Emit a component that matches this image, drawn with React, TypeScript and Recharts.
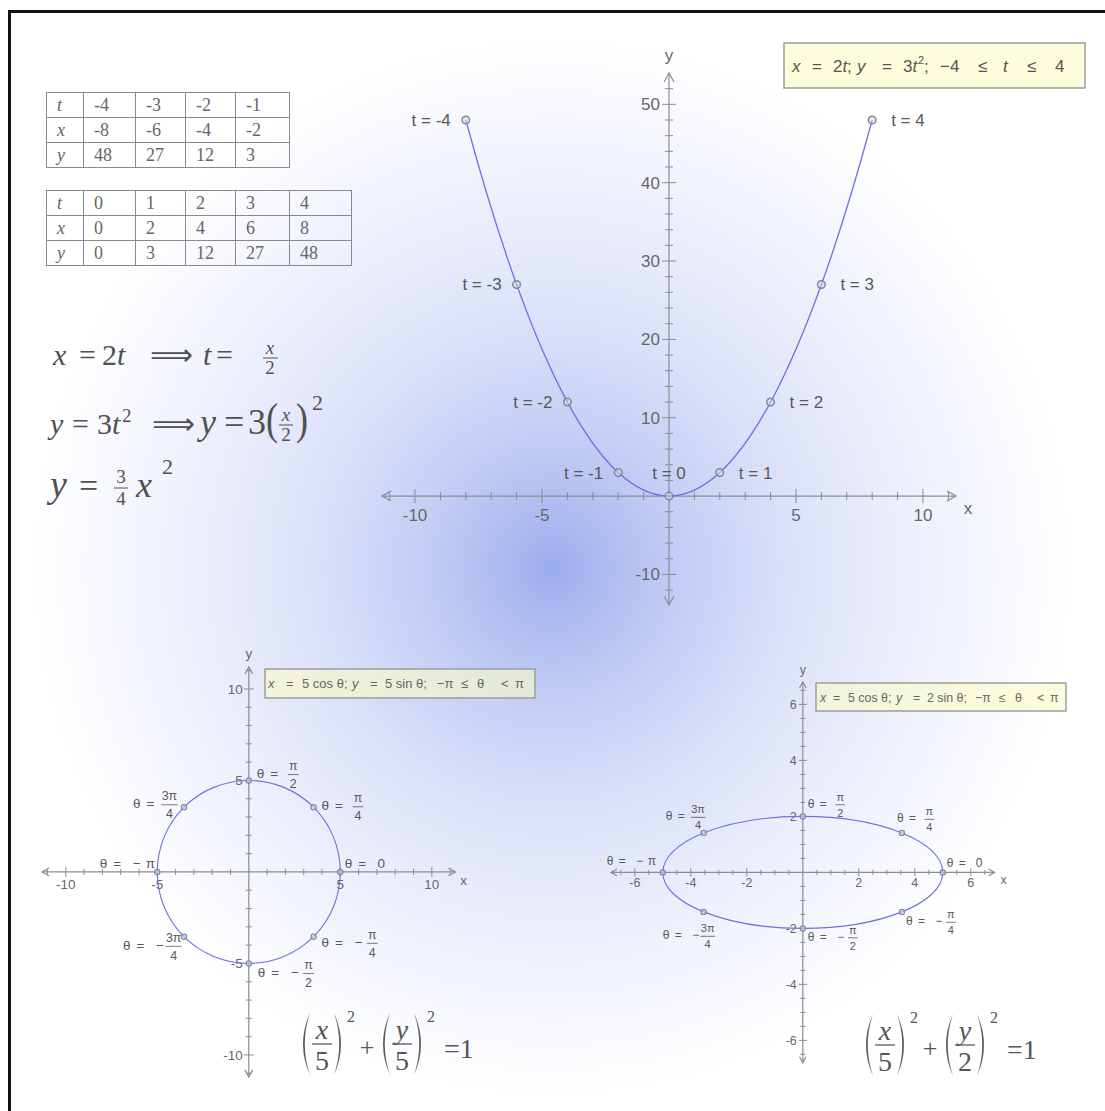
import React from 'react';
import { ScatterChart, Scatter, XAxis, YAxis } from 'recharts';

const SANS = "'Liberation Sans', Arial, sans-serif";
const SERIF = "'Liberation Serif', 'Times New Roman', serif";
const AXIS = '#8b8c94';
const TICK = '#676767';
const INK = '#585858';
const CURVE = '#7070e2';
const MARK = '#85879a';

// parametric parabola x = 2t, y = 3t²
const tValues = [-4, -3, -2, -1, 0, 1, 2, 3, 4];
const parabolaX = [-8, -6, -4, -2, 0, 2, 4, 6, 8];
const parabolaY = [48, 27, 12, 3, 0, 3, 12, 27, 48];

// angles marked on the circle and on the ellipse
const thetaNames = ['0', 'π/4', 'π/2', '3π/4', '−π', '−3π/4', '−π/2', '−π/4'];
const circleX = [5, 3.54, 0, -3.54, -5, -3.54, 0, 3.54];
const circleY = [0, 3.54, 5, 3.54, 0, -3.54, -5, -3.54];
const ellipseX = [5, 3.54, 0, -3.54, -5, -3.54, 0, 3.54];
const ellipseY = [0, 1.41, 2, 1.41, 0, -1.41, -2, -1.41];

// labelled axis ticks
const parabolaXTicks = [-10, -5, 5, 10];
const parabolaYTicks = [-10, 10, 20, 30, 40, 50];
const circleTicks = [-10, -5, 5, 10];
const ellipseTicks = [-6, -4, -2, 2, 4, 6];

// label offsets (px) from each marked point: start of the label, vertical centre
type Place = { dx: number; dy: number };
const circleLabelPlace: Place[] = [
  { dx: 4.5, dy: -9 }, { dx: 8, dy: -2 }, { dx: 8, dy: -7.5 }, { dx: -51, dy: -4 },
  { dx: -57.5, dy: -9 }, { dx: -61, dy: 8 }, { dx: 9, dy: 8.5 }, { dx: 8, dy: 5 },
];
const ellipseLabelPlace: Place[] = [
  { dx: 4, dy: -10 }, { dx: -5, dy: -15 }, { dx: 5, dy: -13 }, { dx: -38, dy: -17 },
  { dx: -56, dy: -12 }, { dx: -41, dy: 23 }, { dx: 5, dy: 8 }, { dx: 4, dy: 9 },
];

const range = (a: number, b: number, step: number) => {
  const out: number[] = [];
  for (let v = a; v <= b + 1e-9; v += step) out.push(Math.round(v * 100) / 100);
  return out;
};

// Cardinal spline through the points (closed loop or open with quadratic end extrapolation)
function cardinal(closed: boolean, k: number) {
  return (context: any) => {
    let pts: number[][] = [];
    return {
      areaStart() {},
      areaEnd() {},
      lineStart() { pts = []; },
      point(x: number, y: number) { pts.push([+x, +y]); },
      lineEnd() {
        const n = pts.length;
        if (!n) return;
        const get = (i: number): number[] => {
          if (closed) return pts[((i % n) + n) % n];
          if (i < 0) return [0, 1].map((j) => 3 * pts[0][j] - 3 * pts[1][j] + pts[2][j]);
          if (i >= n) return [0, 1].map((j) => 3 * pts[n - 1][j] - 3 * pts[n - 2][j] + pts[n - 3][j]);
          return pts[i];
        };
        context.moveTo(pts[0][0], pts[0][1]);
        const segs = closed ? n : n - 1;
        for (let i = 0; i < segs; i++) {
          const p0 = get(i - 1), p1 = get(i), p2 = get(i + 1), p3 = get(i + 2);
          context.bezierCurveTo(
            p1[0] + (p2[0] - p0[0]) * k, p1[1] + (p2[1] - p0[1]) * k,
            p2[0] - (p3[0] - p1[0]) * k, p2[1] - (p3[1] - p1[1]) * k,
            p2[0], p2[1],
          );
        }
        if (closed) context.closePath();
      },
    };
  };
}

type PlaneCfg = {
  left: number; top: number; w: number; h: number; pad: number;
  xDomain: [number, number]; yDomain: [number, number];
  xMinor: number[]; yMinor: number[]; xMajor: number[]; yMajor: number[];
  minorLen: number; majorLen: number; arrow: number; font: number;
  xLabelDy: number; yLabelDx: number; nameFont: number;
  xName: [number, number]; yName: [number, number];
};

const arrowShape = (c: PlaneCfg) => (p: any) => {
  const { cx, cy, payload } = p;
  const s = c.arrow;
  const w = s * 0.55;
  let pts = '';
  if (payload.dir === 'right') pts = `${cx - s},${cy - w} ${cx},${cy} ${cx - s},${cy + w}`;
  if (payload.dir === 'left') pts = `${cx + s},${cy - w} ${cx},${cy} ${cx + s},${cy + w}`;
  if (payload.dir === 'up') pts = `${cx - w},${cy + s} ${cx},${cy} ${cx + w},${cy + s}`;
  if (payload.dir === 'down') pts = `${cx - w},${cy - s} ${cx},${cy} ${cx + w},${cy - s}`;
  const off = payload.dir === 'right' ? c.xName : c.yName;
  return (
    <g>
      <polyline points={pts} fill="none" stroke={AXIS} strokeWidth={1.2} />
      {payload.name && (
        <text x={cx + off[0]} y={cy + off[1]} textAnchor="middle" fontSize={c.nameFont} fontFamily={SANS} fill={TICK}>
          {payload.name}
        </text>
      )}
    </g>
  );
};

const xTickShape = (c: PlaneCfg, len: number) => (p: any) => {
  const { cx, cy, payload } = p;
  return (
    <g>
      <line x1={cx} x2={cx} y1={cy - len} y2={cy + len} stroke={AXIS} strokeWidth={1} />
      {payload.label && (
        <text x={cx} y={cy + c.xLabelDy} textAnchor="middle" fontSize={c.font} fontFamily={SANS} fill={TICK}>
          {payload.label}
        </text>
      )}
    </g>
  );
};

const yTickShape = (c: PlaneCfg, len: number) => (p: any) => {
  const { cx, cy, payload } = p;
  return (
    <g>
      <line x1={cx - len} x2={cx + len} y1={cy} y2={cy} stroke={AXIS} strokeWidth={1} />
      {payload.label && (
        <text x={cx - c.yLabelDx} y={cy} dy="0.35em" textAnchor="end" fontSize={c.font} fontFamily={SANS} fill={TICK}>
          {payload.label}
        </text>
      )}
    </g>
  );
};

function axisSeries(c: PlaneCfg) {
  const xLine = [{ x: c.xDomain[0], y: 0, dir: 'left' }, { x: c.xDomain[1], y: 0, dir: 'right', name: 'x' }];
  const yLine = [{ x: 0, y: c.yDomain[0], dir: 'down' }, { x: 0, y: c.yDomain[1], dir: 'up', name: 'y' }];
  const xMinor = c.xMinor.filter((v) => v !== 0 && !c.xMajor.includes(v)).map((v) => ({ x: v, y: 0 }));
  const yMinor = c.yMinor.filter((v) => v !== 0 && !c.yMajor.includes(v)).map((v) => ({ x: 0, y: v }));
  const xMajor = c.xMajor.map((v) => ({ x: v, y: 0, label: String(v) }));
  const yMajor = c.yMajor.map((v) => ({ x: 0, y: v, label: String(v) }));
  const lineStyle = { stroke: AXIS, strokeWidth: 1.2 };
  return [
    <Scatter key="ax-x" data={xLine} line={lineStyle} shape={arrowShape(c)} isAnimationActive={false} />,
    <Scatter key="ax-y" data={yLine} line={lineStyle} shape={arrowShape(c)} isAnimationActive={false} />,
    <Scatter key="tk-xm" data={xMinor} shape={xTickShape(c, c.minorLen)} isAnimationActive={false} />,
    <Scatter key="tk-xM" data={xMajor} shape={xTickShape(c, c.majorLen)} isAnimationActive={false} />,
    <Scatter key="tk-ym" data={yMinor} shape={yTickShape(c, c.minorLen)} isAnimationActive={false} />,
    <Scatter key="tk-yM" data={yMajor} shape={yTickShape(c, c.majorLen)} isAnimationActive={false} />,
  ];
}

function Plane({ cfg, children }: { cfg: PlaneCfg; children: React.ReactNode }) {
  const c = cfg;
  return (
    <div style={{ position: 'absolute', left: c.left - c.pad, top: c.top - c.pad }}>
      <ScatterChart
        width={c.w + 2 * c.pad}
        height={c.h + 2 * c.pad}
        margin={{ top: c.pad, right: c.pad, bottom: c.pad, left: c.pad }}
      >
        <XAxis type="number" dataKey="x" domain={c.xDomain} hide />
        <YAxis type="number" dataKey="y" domain={c.yDomain} hide />
        {axisSeries(c)}
        {children}
      </ScatterChart>
    </div>
  );
}

// "θ = value" label, the value drawn as a stacked fraction when it has one
function ThetaText({ x, y, name, s }: { x: number; y: number; name: string; s: number }) {
  const neg = name.startsWith('−');
  const body = neg ? name.slice(1) : name;
  const [num, den] = body.split('/');
  const base = y + 0.36 * s;
  const vx = x + (neg ? 3.75 : 2.7) * s;
  const f = 0.92 * s;
  const hw = (num.length > 1 ? 0.6 : 0.4) * s;
  return (
    <g fontFamily={SANS} fill={INK}>
      <text x={x} y={base} fontSize={s}>θ</text>
      <text x={x + 1.0 * s} y={base} fontSize={s}>=</text>
      {neg && <text x={x + 2.75 * s} y={base} fontSize={s} textAnchor="middle">−</text>}
      {den ? (
        <g>
          <text x={vx} y={y - 0.22 * s} fontSize={f} textAnchor="middle">{num}</text>
          <line x1={vx - hw} x2={vx + hw} y1={y + 0.12 * s} y2={y + 0.12 * s} stroke={INK} strokeWidth={0.8} />
          <text x={vx} y={y + 1.1 * s} fontSize={f} textAnchor="middle">{den}</text>
        </g>
      ) : (
        <text x={vx} y={base} fontSize={s} textAnchor="middle">{num}</text>
      )}
    </g>
  );
}

// ---------- top plane: the parabola ----------
const parabolaCfg: PlaneCfg = {
  left: 381.5, top: 73, w: 574, h: 532, pad: 40,
  xDomain: [-11.3, 11.3], yDomain: [-13.9, 54],
  xMinor: range(-11, 11, 1), yMinor: range(-12, 52, 2),
  xMajor: parabolaXTicks, yMajor: parabolaYTicks,
  minorLen: 4, majorLen: 7, arrow: 9, font: 17,
  xLabelDy: 25, yLabelDx: 9, nameFont: 17,
  xName: [12, 18], yName: [0, -12],
};

const parabolaPoints = tValues.map((t, i) => ({ x: parabolaX[i], y: parabolaY[i], t }));

const parabolaMark = (p: any) => {
  const { cx, cy, payload } = p;
  const t = payload.t;
  const label = `t = ${t}`;
  let tx = cx, ty = cy, anchor: any = 'middle';
  if (t < 0) { tx = cx - 15; anchor = 'end'; }
  if (t > 0) { tx = cx + 19; anchor = 'start'; }
  if (t === 0) { ty = cy - 23; }
  return (
    <g>
      <circle cx={cx} cy={cy} r={3.8} fill="rgba(210,216,240,0.55)" stroke={MARK} strokeWidth={1.5} />
      <text x={tx} y={ty} dy="0.35em" textAnchor={anchor} fontSize={17} fontFamily={SANS} fill={INK}>{label}</text>
    </g>
  );
};

// ---------- bottom left: the circle ----------
const circleCfg: PlaneCfg = {
  left: 42.2, top: 667, w: 413.6, h: 409.9, pad: 30,
  xDomain: [-11.3, 11.3], yDomain: [-11.2, 11.2],
  xMinor: range(-11, 11, 1), yMinor: range(-11, 11, 1),
  xMajor: circleTicks, yMajor: circleTicks,
  minorLen: 3, majorLen: 5, arrow: 7, font: 13.5,
  xLabelDy: 17, yLabelDx: 6, nameFont: 13.5,
  xName: [8, 13], yName: [0, -9],
};

const circlePoints = thetaNames.map((name, i) => ({ x: circleX[i], y: circleY[i], name, place: circleLabelPlace[i] }));

// ---------- bottom right: the ellipse ----------
const ellipseCfg: PlaneCfg = {
  left: 611.2, top: 681.6, w: 383.6, h: 380.8, pad: 30,
  xDomain: [-6.85, 6.85], yDomain: [-6.8, 6.8],
  xMinor: range(-6.5, 6.5, 0.5), yMinor: range(-6.5, 6.5, 0.5),
  xMajor: ellipseTicks, yMajor: ellipseTicks,
  minorLen: 2.5, majorLen: 4, arrow: 6, font: 12.5,
  xLabelDy: 15, yLabelDx: 6, nameFont: 12.5,
  xName: [9, 12], yName: [0, -8],
};

const ellipsePoints = thetaNames.map((name, i) => ({ x: ellipseX[i], y: ellipseY[i], name, place: ellipseLabelPlace[i] }));

const thetaMark = (s: number) => (p: any) => {
  const { cx, cy, payload } = p;
  const pl = payload.place;
  return (
    <g>
      <circle cx={cx} cy={cy} r={2.6} fill="rgba(210,216,240,0.55)" stroke={MARK} strokeWidth={1.2} />
      <ThetaText x={cx + pl.dx} y={cy + pl.dy} name={payload.name} s={s} />
    </g>
  );
};

// ---------- tables of values ----------
function ValueTable({ left, top, idx, widths }: { left: number; top: number; idx: number[]; widths: number[] }) {
  const rows: [string, number[]][] = [['t', tValues], ['x', parabolaX], ['y', parabolaY]];
  const cell: React.CSSProperties = {
    border: '1px solid #8a8a8a', padding: '0 0 0 10px', height: 24, lineHeight: '24px',
    textAlign: 'left', verticalAlign: 'middle', whiteSpace: 'nowrap', boxSizing: 'border-box',
  };
  return (
    <table
      style={{
        position: 'absolute', left, top, borderCollapse: 'collapse', tableLayout: 'fixed',
        width: widths.reduce((a, b) => a + b, 0), fontFamily: SERIF, fontSize: 18, color: '#666',
      }}
    >
      <colgroup>{widths.map((w, i) => <col key={i} style={{ width: w }} />)}</colgroup>
      <tbody>
        {rows.map(([name, vals]) => (
          <tr key={name}>
            <td style={{ ...cell, fontStyle: 'italic' }}>{name}</td>
            {idx.map((i) => <td key={i} style={cell}>{vals[i]}</td>)}
          </tr>
        ))}
      </tbody>
    </table>
  );
}

// ---------- large parentheses for the implicit equations ----------
function Paren({ x, top, h, right }: { x: number; top: number; h: number; right?: boolean }) {
  const w = 10;
  const mid = top + h / 2;
  const bot = top + h;
  const d = right
    ? `M${x},${top} Q${x + 1.4 * w},${mid} ${x},${bot} Q${x + 1.05 * w},${mid} ${x},${top} Z`
    : `M${x + w},${top} Q${x - 0.4 * w},${mid} ${x + w},${bot} Q${x - 0.05 * w},${mid} ${x + w},${top} Z`;
  return <path d={d} fill="#5a5a5a" />;
}

function Implicit({ ox, oy, b }: { ox: number; oy: number; b: string }) {
  const group = (gx: number, v: string, d: string) => (
    <g>
      <Paren x={gx} top={oy} h={62} />
      <text x={gx + 22} y={oy + 26} fontSize={28} fontStyle="italic" textAnchor="middle">{v}</text>
      <line x1={gx + 12} x2={gx + 32} y1={oy + 31} y2={oy + 31} stroke="#5a5a5a" strokeWidth={1.3} />
      <text x={gx + 22} y={oy + 57} fontSize={28} textAnchor="middle">{d}</text>
      <Paren x={gx + 34} top={oy} h={62} right />
      <text x={gx + 47} y={oy + 9} fontSize={16}>2</text>
    </g>
  );
  return (
    <g fontFamily={SERIF} fill="#555">
      {group(ox, 'x', '5')}
      <text x={ox + 67} y={oy + 43} fontSize={26} textAnchor="middle">+</text>
      {group(ox + 80, 'y', b)}
      <text x={ox + 144} y={oy + 45} fontSize={28}>=1</text>
    </g>
  );
}

function Derivation() {
  return (
    <g fontFamily={SERIF} fill="#505050">
      {/* x = 2t  =>  t = x/2 */}
      <text x={53} y={365} fontSize={30} fontStyle="italic">x</text>
      <text x={79} y={365} fontSize={30}>=</text>
      <text x={102} y={365} fontSize={30}>2</text>
      <text x={117} y={365} fontSize={30} fontStyle="italic">t</text>
      <text x={150} y={365} fontSize={30}>⟹</text>
      <text x={203} y={365} fontSize={30} fontStyle="italic">t</text>
      <text x={216} y={365} fontSize={30}>=</text>
      <text x={270} y={354} fontSize={19} fontStyle="italic" textAnchor="middle">x</text>
      <line x1={263} x2={278} y1={358} y2={358} stroke="#505050" strokeWidth={1} />
      <text x={270} y={374} fontSize={19} textAnchor="middle">2</text>

      {/* y = 3t²  =>  y = 3(x/2)² */}
      <text x={50} y={434} fontSize={30} fontStyle="italic">y</text>
      <text x={72} y={434} fontSize={30}>=</text>
      <text x={97} y={434} fontSize={30}>3</text>
      <text x={112} y={434} fontSize={30} fontStyle="italic">t</text>
      <text x={122} y={422} fontSize={19}>2</text>
      <text x={152} y={434} fontSize={30}>⟹</text>
      <text x={200} y={434} fontSize={36} fontStyle="italic">y</text>
      <text x={224} y={434} fontSize={36}>=</text>
      <text x={248} y={434} fontSize={36}>3</text>
      <text x={266} y={434} fontSize={36} transform="translate(266 434) scale(1 1.25) translate(-266 -434)">(</text>
      <text x={286} y={421} fontSize={19} fontStyle="italic" textAnchor="middle">x</text>
      <line x1={279} x2={293} y1={425} y2={425} stroke="#505050" strokeWidth={1} />
      <text x={286} y={441} fontSize={19} textAnchor="middle">2</text>
      <text x={296} y={434} fontSize={36} transform="translate(296 434) scale(1 1.25) translate(-296 -434)">)</text>
      <text x={312} y={410} fontSize={22}>2</text>

      {/* y = 3/4 x² */}
      <text x={50} y={497} fontSize={38} fontStyle="italic">y</text>
      <text x={79} y={497} fontSize={34}>=</text>
      <text x={121} y={483} fontSize={19} textAnchor="middle">3</text>
      <line x1={114} x2={128} y1={488} y2={488} stroke="#505050" strokeWidth={1} />
      <text x={121} y={505} fontSize={19} textAnchor="middle">4</text>
      <text x={136} y={497} fontSize={36} fontStyle="italic">x</text>
      <text x={162} y={474} fontSize={22}>2</text>
    </g>
  );
}

// caption pieces laid out as [x, text, italic?]
type Piece = [number, string, boolean?];
const parabolaCaption: Piece[] = [
  [792, 'x', true], [812, '='], [833, '2'], [842.5, 't', true], [847, ';'], [857, 'y', true], [882, '='],
  [903, '3'], [912.5, 't', true], [924, ';'], [940, '−4'], [978, '≤'], [1003, 't', true], [1027, '≤'], [1055, '4'],
];
const circleCaption: Piece[] = [
  [268, 'x', true], [286, '='], [302, '5 cos θ;'], [352, 'y', true], [370, '='], [385, '5 sin θ;'],
  [437, '−π'], [461, '≤'], [477, 'θ'], [501, '<'], [515, 'π'],
];
const ellipseCaption: Piece[] = [
  [820, 'x', true], [833, '='], [848, '5 cos θ;'], [896, 'y', true], [913, '='], [927, '2 sin θ;'],
  [975, '−π'], [999, '≤'], [1015, 'θ'], [1037, '<'], [1050, 'π'],
];

function Caption({ pieces, y, size, fill }: { pieces: Piece[]; y: number; size: number; fill: string }) {
  return (
    <g fontSize={size} fill={fill}>
      {pieces.map(([x, s, it], i) => (
        <text key={i} x={x} y={y} fontStyle={it ? 'italic' : 'normal'} style={{ whiteSpace: 'pre' }}>{s}</text>
      ))}
    </g>
  );
}

function Captions() {
  const box = { fill: 'rgba(250,252,198,0.62)', stroke: '#9d9d9d', strokeWidth: 1.5 };
  return (
    <g fontFamily={SANS}>
      <rect x={784} y={43} width={301} height={45} {...box} />
      <Caption pieces={parabolaCaption} y={72} size={17} fill="#555" />
      <text x={918} y={64} fontSize={11} fill="#555">2</text>

      <rect x={265} y={669} width={270} height={29} {...box} />
      <Caption pieces={circleCaption} y={688} size={13} fill="#666" />

      <rect x={816} y={683} width={250} height={28} {...box} />
      <Caption pieces={ellipseCaption} y={701.5} size={12.4} fill="#666" />
    </g>
  );
}

export default function App() {
  return (
    <div
      style={{
        position: 'absolute', left: 0, top: 0, width: 1105, height: 1111, overflow: 'hidden',
        background:
          'radial-gradient(ellipse 520px 530px at 552px 568px, rgb(155,172,236) 0%, rgb(172,187,240) 10%, rgb(196,206,245) 25%, rgb(218,224,249) 45%, rgb(237,240,252) 70%, rgb(255,255,255) 100%)',
      }}
    >
      <div style={{ position: 'absolute', left: 8, top: 10, width: 1097, height: 2.5, background: '#111' }} />
      <div style={{ position: 'absolute', left: 8, top: 10, width: 2.5, height: 1101, background: '#111' }} />

      <ValueTable left={46} top={92} idx={[0, 1, 2, 3]} widths={[37, 52, 50, 50, 54]} />
      <ValueTable left={46} top={190} idx={[4, 5, 6, 7, 8]} widths={[37, 52, 50, 50, 54, 62]} />

      <svg width={1105} height={1111} style={{ position: 'absolute', left: 0, top: 0 }}>
        <Derivation />
        <Captions />
        <Implicit ox={300} oy={1013} b="5" />
        <Implicit ox={863} oy={1014} b="2" />
      </svg>

      <Plane cfg={parabolaCfg}>
        <Scatter
          data={parabolaPoints}
          line={{ stroke: CURVE, strokeWidth: 1.3 }}
          lineJointType={cardinal(false, 1 / 6) as any}
          shape={parabolaMark}
          isAnimationActive={false}
        />
      </Plane>

      <Plane cfg={circleCfg}>
        <Scatter
          data={circlePoints}
          line={{ stroke: CURVE, strokeWidth: 1.1 }}
          lineJointType={cardinal(true, 0.1875) as any}
          shape={thetaMark(13.5)}
          isAnimationActive={false}
        />
      </Plane>

      <Plane cfg={ellipseCfg}>
        <Scatter
          data={ellipsePoints}
          line={{ stroke: CURVE, strokeWidth: 1.1 }}
          lineJointType={cardinal(true, 0.1875) as any}
          shape={thetaMark(12)}
          isAnimationActive={false}
        />
      </Plane>
    </div>
  );
}
